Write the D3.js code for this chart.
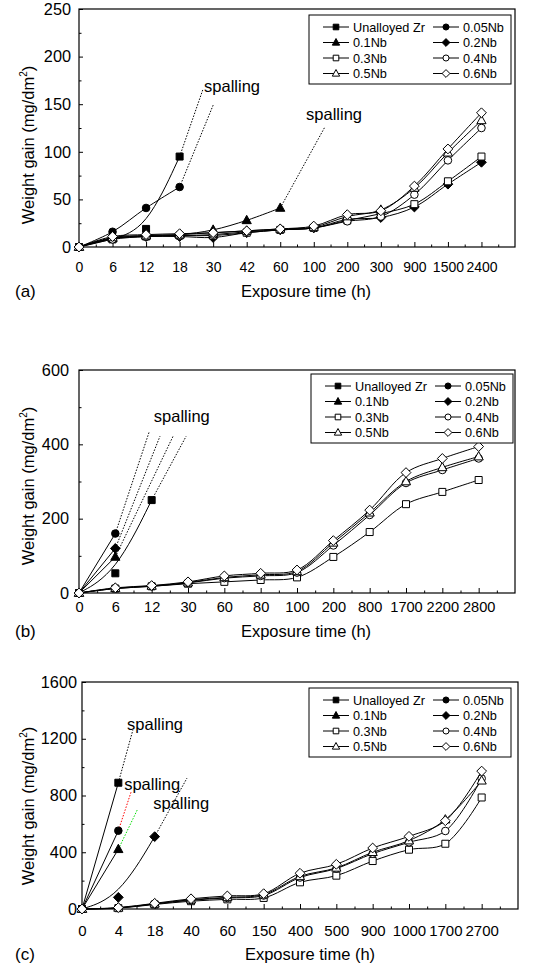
<!DOCTYPE html>
<html>
<head>
<meta charset="utf-8">
<script src="https://cdn.jsdelivr.net/npm/d3@7"></script>
<style>
  body { margin: 0; background: #fff; }
  text { font-family: "Liberation Sans", Arial, sans-serif; fill: #000; }
</style>
</head>
<body>
<div id="chart"></div>
<script>
const W = 545, H = 967;

// series shared by the three panels
const seriesNames = ['Unalloyed Zr', '0.05Nb', '0.1Nb', '0.2Nb', '0.3Nb', '0.4Nb', '0.5Nb', '0.6Nb'];
const markerShapes = ['square', 'circle', 'triangle', 'diamond', 'square', 'circle', 'triangle', 'diamond'];
const markerFilled = [true, true, true, true, false, false, false, false];

// panel (a)
const timesA = ['0', '6', '12', '18', '30', '42', '60', '100', '200', '300', '900', '1500', '2400'];
const zrA = [0, 8, 19, 95];
const nb005A = [0, 16, 41, 63];
const nb01A = [0, 9, 12, 13, 18, 28, 41];
const nb02A = [0, 9, 11, 11, 10, 15, 18, 20, 29, 31, 42, 66, 89];
const nb03A = [0, 9, 11, 12, 12, 15, 18, 20, 28, 35, 45, 69, 95];
const nb04A = [0, 8, 11, 12, 13, 16, 18, 20, 27, 32, 55, 91, 125];
const nb05A = [0, 10, 12, 13, 15, 17, 19, 21, 32, 39, 62, 99, 133];
const nb06A = [0, 11, 13, 14, 15, 17, 19, 22, 34, 38, 64, 103, 141];

// panel (b)
const timesB = ['0', '6', '12', '30', '60', '80', '100', '200', '800', '1700', '2200', '2800'];
const zrB = [0, 53, 250];
const nb005B = [0, 160];
const nb01B = [0, 97];
const nb02B = [0, 120];
const nb03B = [0, 12, 18, 25, 30, 35, 42, 97, 164, 239, 272, 304];
const nb04B = [0, 12, 18, 27, 40, 46, 55, 128, 210, 296, 331, 362];
const nb05B = [0, 13, 19, 28, 42, 49, 58, 135, 216, 300, 338, 367];
const nb06B = [0, 14, 20, 30, 46, 53, 62, 141, 223, 324, 362, 394];

// panel (c)
const timesC = ['0', '4', '18', '40', '60', '150', '400', '500', '900', '1000', '1700', '2700'];
const zrC = [0, 890];
const nb005C = [0, 552];
const nb01C = [0, 421];
const nb02C = [0, 82, 510];
const nb03C = [0, 6, 32, 55, 68, 78, 188, 235, 338, 418, 460, 786];
const nb04C = [0, 7, 35, 62, 78, 95, 222, 285, 390, 470, 550, 920];
const nb05C = [0, 8, 37, 66, 82, 102, 230, 290, 400, 482, 630, 904];
const nb06C = [0, 10, 40, 72, 92, 108, 252, 315, 430, 512, 622, 972];

// "spalling" guides, in (category index, value) units: x1, y1, x2, y2
const spallLinesA = [[3, 95, 3.7, 166], [3, 63, 4.0, 149], [6, 41, 7.33, 126]];
const spallTextA = [[3.73, 163], [6.77, 133]];
const spallLinesB = [[1, 160, 1.93, 433], [1, 120, 2.23, 422], [1, 97, 2.59, 422], [2, 250, 2.95, 422]];
const spallTextB = [[2.06, 460]];
const spallLinesC = [[1, 890, 1.4, 1261], [1, 552, 1.35, 824], [1, 421, 1.52, 698], [2, 510, 2.89, 923]];
const spallTextC = [[1.24, 1261], [1.16, 839], [1.96, 705]];

const panels = [
  { label: '(a)', times: timesA, series: [zrA, nb005A, nb01A, nb02A, nb03A, nb04A, nb05A, nb06A],
    yMax: 250, yStep: 50, basis: [0],
    l: 79, r: 515, t: 9, b: 247, tickPad: 15.5, xFont: 14, yPad: 8, titleDy: 50, yTitleY: 145, xTitleX: 306,
    legX: 230, legY: 6, spallLines: spallLinesA, spallColors: ['#000', '#000', '#000'], spallText: spallTextA },
  { label: '(b)', times: timesB, series: [zrB, nb005B, nb01B, nb02B, nb03B, nb04B, nb05B, nb06B],
    yMax: 600, yStep: 200, basis: [0],
    l: 79, r: 515, t: 370, b: 593, tickPad: 8.5, xFont: 14.6, yPad: 10, titleDy: 44, yTitleY: 486, xTitleX: 306,
    legX: 232, legY: 4, spallLines: spallLinesB, spallColors: ['#000', '#000', '#000', '#000'], spallText: spallTextB },
  { label: '(c)', times: timesC, series: [zrC, nb005C, nb01C, nb02C, nb03C, nb04C, nb05C, nb06C],
    yMax: 1600, yStep: 400, basis: [3],
    l: 82, r: 518, t: 682, b: 909, tickPad: 16.5, xFont: 15, yPad: 5, titleDy: 51, yTitleY: 806, xTitleX: 310,
    legX: 227, legY: 6, spallLines: spallLinesC, spallColors: ['#000', '#ff0000', '#00dd00', '#000'], spallText: spallTextC }
];

function markerPath(shape, k) {
  if (shape === 'square') { const s = 3.5 * k; return `M${-s},${-s}H${s}V${s}H${-s}Z`; }
  if (shape === 'circle') { const r = 3.8 * k; return `M${-r},0A${r},${r} 0 1,0 ${r},0A${r},${r} 0 1,0 ${-r},0Z`; }
  if (shape === 'triangle') { const w = 4.6 * k; return `M0,${-5 * k}L${w},${3.3 * k}L${-w},${3.3 * k}Z`; }
  const d = 4.9 * k;
  return `M0,${-d}L${d},0L0,${d}L${-d},0Z`;
}

const svg = d3.select('#chart').append('svg')
  .attr('width', W)
  .attr('height', H);

function drawPanel(p) {
  const n = p.times.length;
  const x = d3.scaleLinear().domain([0, n]).range([p.l, p.r]);
  const y = d3.scaleLinear().domain([0, p.yMax]).range([p.b, p.t]);
  const g = svg.append('g');

  // y axis: major + minor ticks pointing inward
  const yMajor = g.append('g')
    .attr('transform', `translate(${p.l},0)`)
    .call(d3.axisLeft(y)
      .tickValues(d3.range(0, p.yMax + 1, p.yStep))
      .tickFormat(d3.format('d'))
      .tickSize(-4)
      .tickPadding(p.yPad));
  g.append('g')
    .attr('transform', `translate(${p.l},0)`)
    .call(d3.axisLeft(y).tickValues(d3.range(p.yStep / 2, p.yMax, p.yStep)).tickSize(-2.5).tickFormat(''));

  // x axis: category ticks + half-step minor ticks
  const xMajor = g.append('g')
    .attr('transform', `translate(0,${p.b})`)
    .call(d3.axisBottom(x).tickValues(d3.range(n)).tickFormat(i => p.times[i]).tickSize(-5).tickPadding(p.tickPad));
  g.append('g')
    .attr('transform', `translate(0,${p.b})`)
    .call(d3.axisBottom(x).tickValues(d3.range(n).map(i => i + 0.5)).tickSize(-2.5).tickFormat(''));

  g.selectAll('.domain').remove();
  g.selectAll('.tick line').attr('stroke', '#000');
  g.selectAll('.tick text')
    .attr('font-family', '"Liberation Sans", Arial, sans-serif')
    .attr('fill', '#000');
  yMajor.selectAll('text').attr('font-size', 16.3);
  xMajor.selectAll('text').attr('font-size', p.xFont);

  // plot frame
  g.append('rect')
    .attr('x', p.l).attr('y', p.t)
    .attr('width', p.r - p.l).attr('height', p.b - p.t)
    .attr('fill', 'none').attr('stroke', '#000').attr('stroke-width', 1.2);

  // spalling guides
  p.spallLines.forEach((s, i) => {
    g.append('line')
      .attr('x1', x(s[0])).attr('y1', y(s[1]))
      .attr('x2', x(s[2])).attr('y2', y(s[3]))
      .attr('stroke', p.spallColors[i])
      .attr('stroke-width', 1)
      .attr('stroke-dasharray', '1.5,1.5');
  });
  p.spallText.forEach(s => {
    g.append('text')
      .attr('x', x(s[0])).attr('y', y(s[1]))
      .attr('font-size', 16.5)
      .text('spalling');
  });

  // series lines and markers
  p.series.forEach((vals, k) => {
    const pts = vals.map((v, i) => [i, v]);
    const curve = p.basis.includes(k) ? d3.curveBasis : d3.curveCatmullRom;
    const line = d3.line().x(d => x(d[0])).y(d => y(d[1])).curve(curve);
    g.append('path')
      .datum(pts)
      .attr('d', line)
      .attr('fill', 'none')
      .attr('stroke', '#000')
      .attr('stroke-width', 1);
    g.selectAll(null)
      .data(pts)
      .enter()
      .append('path')
      .attr('transform', d => `translate(${x(d[0])},${y(d[1])})`)
      .attr('d', markerPath(markerShapes[k], 1))
      .attr('fill', markerFilled[k] ? '#000' : '#fff')
      .attr('stroke', '#000')
      .attr('stroke-width', 1);
  });

  // legend
  const lx = p.l + p.legX, ly = p.t + p.legY;
  const leg = g.append('g').attr('transform', `translate(${lx},${ly})`);
  leg.append('rect')
    .attr('width', 202).attr('height', 69)
    .attr('fill', '#fff').attr('stroke', '#000').attr('stroke-width', 1);
  seriesNames.forEach((name, k) => {
    const cx = k % 2 === 0 ? 0 : 110;
    const cy = 12 + Math.floor(k / 2) * 15.5;
    leg.append('line')
      .attr('x1', cx + 14).attr('x2', cx + 40)
      .attr('y1', cy).attr('y2', cy)
      .attr('stroke', '#000');
    leg.append('path')
      .attr('transform', `translate(${cx + 27},${cy})`)
      .attr('d', markerPath(markerShapes[k], 0.8))
      .attr('fill', markerFilled[k] ? '#000' : '#fff')
      .attr('stroke', '#000');
    leg.append('text')
      .attr('x', cx + 44).attr('y', cy)
      .attr('dy', '0.36em')
      .attr('font-size', 12.7)
      .text(name);
  });

  // axis titles and panel label
  g.append('text')
    .attr('x', p.xTitleX).attr('y', p.b + p.titleDy)
    .attr('text-anchor', 'middle')
    .attr('font-size', 16.5)
    .text('Exposure time (h)');
  g.append('text')
    .attr('x', 15).attr('y', p.b + p.titleDy)
    .attr('font-size', 17)
    .text(p.label);
  const yt = g.append('text')
    .attr('transform', `translate(34,${p.yTitleY}) rotate(-90)`)
    .attr('text-anchor', 'middle')
    .attr('font-size', 16.5);
  yt.append('tspan').text('Weight gain (mg/dm');
  yt.append('tspan').attr('font-size', 10).attr('dy', -7).text('2');
  yt.append('tspan').attr('dy', 7).text(')');
}

panels.forEach(drawPanel);
</script>
</body>
</html>
